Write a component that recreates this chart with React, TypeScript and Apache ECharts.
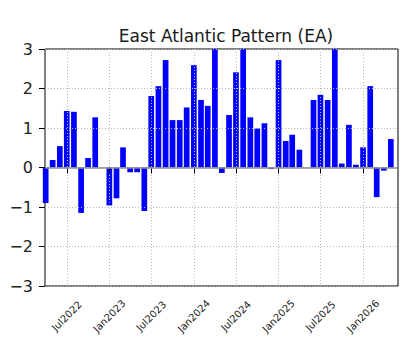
import React, { useEffect, useRef } from "react";
import * as echarts from "echarts";

// Monthly East Atlantic (EA) teleconnection index
const months: string[] = [
  "2022-04", "2022-05", "2022-06", "2022-07", "2022-08", "2022-09", "2022-10", "2022-11", "2022-12",
  "2023-01", "2023-02", "2023-03", "2023-04", "2023-05", "2023-06", "2023-07", "2023-08", "2023-09", "2023-10", "2023-11", "2023-12",
  "2024-01", "2024-02", "2024-03", "2024-04", "2024-05", "2024-06", "2024-07", "2024-08", "2024-09", "2024-10", "2024-11", "2024-12",
  "2025-01", "2025-02", "2025-03", "2025-04", "2025-05", "2025-06", "2025-07", "2025-08", "2025-09", "2025-10", "2025-11", "2025-12",
  "2026-01", "2026-02", "2026-03", "2026-04", "2026-05",
];

const eaIndex: number[] = [
  -0.9, 0.19, 0.54, 1.43, 1.41, -1.15, 0.24, 1.27, 0,
  -0.96, -0.78, 0.51, -0.12, -0.12, -1.1, 1.81, 2.06, 2.72, 1.2, 1.2, 1.52,
  2.59, 1.71, 1.56, 3.2, -0.14, 1.33, 2.41, 3.1, 1.27, 0.99, 1.12, -0.04,
  2.72, 0.67, 0.83, 0.45, 0, 1.71, 1.84, 1.71, 3.3, 0.1, 1.08, 0.07,
  0.51, 2.06, -0.75, -0.08, 0.72,
];

// Half-yearly tick marks on the date axis
const tickDates: string[] = [
  "2022-07", "2023-01", "2023-07", "2024-01", "2024-07", "2025-01", "2025-07", "2026-01",
];

const axisStart = "2022-03-29";
const axisEnd = "2026-06-01";

const yTicks: number[] = [-3, -2, -1, 0, 1, 2, 3];

const MONTH_NAMES = ["Jan", "Feb", "Mar", "Apr", "May", "Jun", "Jul", "Aug", "Sep", "Oct", "Nov", "Dec"];

const toTime = (ym: string): number => {
  const [y, m, d] = ym.split("-").map(Number);
  return Date.UTC(y, m - 1, d || 1);
};

const FONT = "DejaVu Sans";

export default function App() {
  const ref = useRef<HTMLDivElement>(null);

  useEffect(() => {
    if (!ref.current) return;
    const chart = echarts.init(ref.current, undefined, { renderer: "svg" });
    const tickValues = tickDates.map(toTime);

    chart.setOption({
      animation: false,
      backgroundColor: "#ffffff",
      title: {
        text: "East Atlantic Pattern (EA)",
        left: 221,
        textAlign: "center",
        top: 22,
        textStyle: { fontFamily: FONT, fontSize: 17, fontWeight: "normal", color: "#1a1a1a" },
      },
      grid: {
        left: 45,
        top: 49,
        width: 353,
        height: 237,
        show: true,
        borderColor: "#000000",
        borderWidth: 1,
        backgroundColor: "transparent",
        containLabel: false,
      },
      xAxis: {
        type: "value",
        min: toTime(axisStart),
        max: toTime(axisEnd),
        z: 3,
        axisLine: { show: false },
        axisTick: {
          show: true,
          customValues: tickValues,
          length: 6,
          lineStyle: { color: "#000000", width: 1 },
        },
        axisLabel: {
          customValues: tickValues,
          rotate: 45,
          align: "center",
          verticalAlign: "middle",
          margin: 30,
          fontFamily: FONT,
          fontSize: 10,
          color: "#222222",
          formatter: (v: number) => {
            const d = new Date(v);
            return MONTH_NAMES[d.getUTCMonth()] + d.getUTCFullYear();
          },
        },
        splitLine: {
          show: true,
          lineStyle: { color: "#b8b8b8", type: [1, 2], width: 1 },
        },
      },
      yAxis: {
        type: "value",
        min: yTicks[0],
        max: yTicks[yTicks.length - 1],
        interval: 1,
        z: 3,
        axisLine: { show: false },
        axisTick: { show: true, length: 6, lineStyle: { color: "#000000", width: 1 } },
        axisLabel: {
          margin: 12,
          fontFamily: FONT,
          fontSize: 16,
          color: "#222222",
          formatter: (v: number) => (v < 0 ? "\u2212" + Math.abs(v) : String(v)),
        },
        splitLine: {
          show: true,
          lineStyle: { color: "#b8b8b8", type: [1, 2], width: 1 },
        },
      },
      series: [
        {
          type: "bar",
          data: months.map((m, i) => [toTime(m), eaIndex[i]]),
          barWidth: 5.7,
          clip: true,
          itemStyle: { color: "#0000ff" },
          markLine: {
            silent: true,
            symbol: "none",
            label: { show: false },
            lineStyle: { color: "#8c8c8c", width: 1.5, type: "solid" },
            data: [{ yAxis: 0 }],
          },
        },
      ],
    });

    return () => chart.dispose();
  }, []);

  return (
    <div
      ref={ref}
      style={{ position: "fixed", left: 0, top: 0, width: 415, height: 347 }}
    />
  );
}
